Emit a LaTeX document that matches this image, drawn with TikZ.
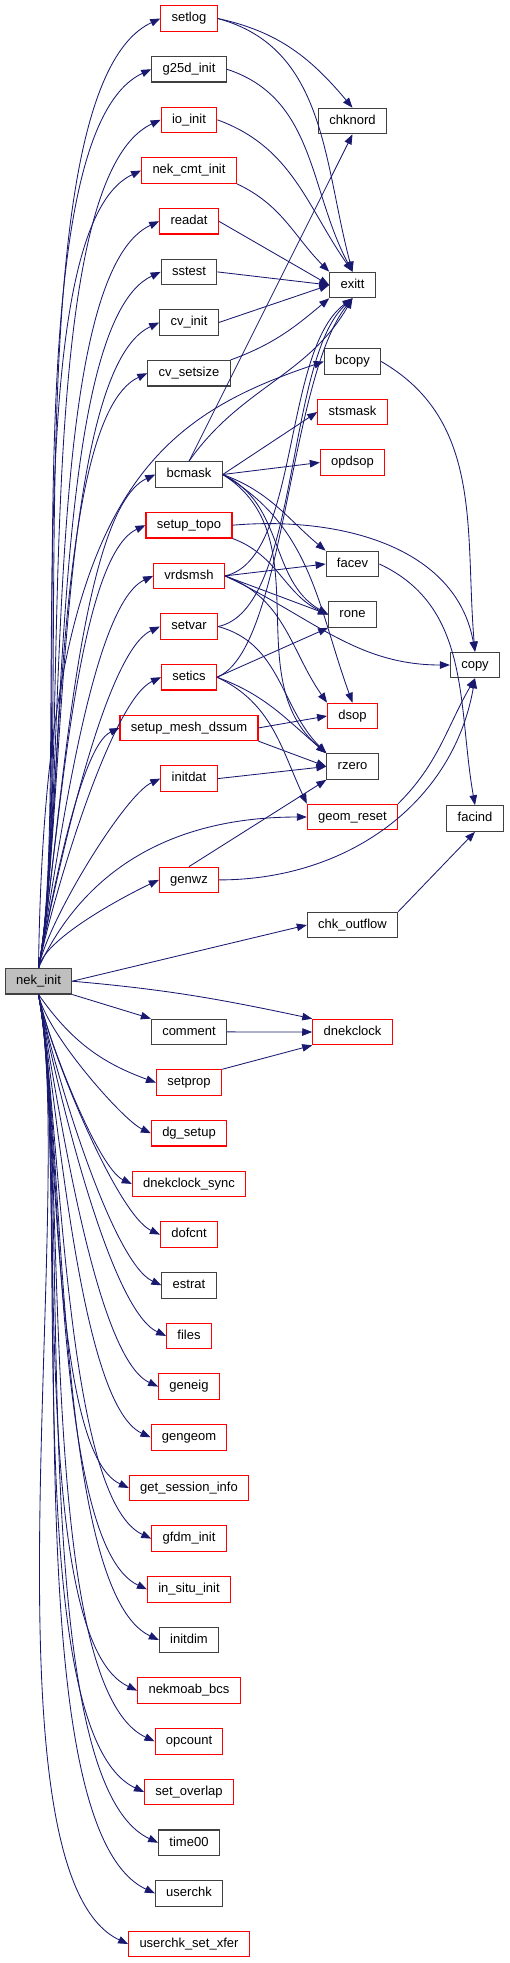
\documentclass[tikz,border=0pt]{standalone}
\usepackage{fontspec}
\setmainfont{Liberation Sans}
\usetikzlibrary{arrows.meta,positioning}
\definecolor{navyline}{HTML}{191970}
\definecolor{boxgray}{HTML}{404040}
\definecolor{rootfill}{HTML}{BFBFBF}

\begin{document}
\begin{tikzpicture}[x=1pt,y=1pt,
  fn/.style={rectangle,draw=boxgray,line width=1.1pt,fill=white,font=\fontsize{13}{13}\selectfont,
             minimum height=25.5pt,inner xsep=10.8pt,inner ysep=0pt,text height=9.5pt,text depth=2.8pt},
  fnred/.style={fn,draw=red},
  root/.style={fn,fill=rootfill},
  call/.style={-{Triangle[length=10pt,width=7.5pt]},draw=navyline,line width=0.85pt},
  fanup/.style={out=79,in=205,out looseness=0.55,in looseness=0.45},
  fandown/.style={out=-79,in=155,out looseness=0.55,in looseness=0.45}
]
\useasboundingbox (0,0) rectangle (509,-1963);

% ===== ROOT =====
\node[root] (nek) at (38.5,-981.2) {nek\_init};

% ===== CALLED FROM nek_init (left column) =====
\node[fnred] (setlog)    at (189,-18.5)  {setlog};
\node[fn]    (gdinit)    at (189,-69.2)  {g25d\_init};
\node[fnred] (ioinit)    at (189,-119.8) {io\_init};
\node[fnred] (cmtinit)   at (189,-170.5) {nek\_cmt\_init};
\node[fnred] (readat)    at (189,-221.2) {readat};
\node[fn]    (sstest)    at (189,-271.9) {sstest};
\node[fn]    (cvinit)    at (189,-322.5) {cv\_init};
\node[fn]    (cvsetsize) at (189,-373.2) {cv\_setsize};
\node[fn]    (bcmask)    at (189,-474.5) {bcmask};
\node[fnred] (setuptopo) at (189,-525.2) {setup\_topo};
\node[fnred] (vrdsmsh)   at (189,-575.9) {vrdsmsh};
\node[fnred] (setvar)    at (189,-626.5) {setvar};
\node[fnred] (setics)    at (189,-677.2) {setics};
\node[fnred] (meshdssum) at (189,-727.9) {setup\_mesh\_dssum};
\node[fnred] (initdat)   at (189,-778.6) {initdat};
\node[fnred] (genwz)     at (189,-879.9) {genwz};
\node[fn]    (comment)   at (189,-1031.9) {comment};
\node[fnred] (setprop)   at (189,-1082.6) {setprop};
\node[fnred] (dgsetup)   at (189,-1133.2) {dg\_setup};
\node[fnred] (clocksync) at (189,-1183.9) {dnekclock\_sync};
\node[fnred] (dofcnt)    at (189,-1234.6) {dofcnt};
\node[fn]    (estrat)    at (189,-1285.3) {estrat};
\node[fnred] (files)     at (189,-1335.9) {files};
\node[fnred] (geneig)    at (189,-1386.6) {geneig};
\node[fnred] (gengeom)   at (189,-1437.3) {gengeom};
\node[fnred] (session)   at (189,-1488)   {get\_session\_info};
\node[fnred] (gfdm)      at (189,-1538.6) {gfdm\_init};
\node[fnred] (insitu)    at (189,-1589.3) {in\_situ\_init};
\node[fn]    (initdim)   at (189,-1640)   {initdim};
\node[fnred] (nekmoab)   at (189,-1690.6) {nekmoab\_bcs};
\node[fnred] (opcount)   at (189,-1741.3) {opcount};
\node[fnred] (setoverlap) at (189,-1792)  {set\_overlap};
\node[fn]    (timezero)  at (189,-1842.7) {time00};
\node[fn]    (userchk)   at (189,-1893.3) {userchk};
\node[fnred] (xfer)      at (189,-1944)   {userchk\_set\_xfer};

% ===== SECOND LEVEL (right columns) =====
\node[fn]    (chknord)    at (352.5,-121)   {chknord};
\node[fn]    (exitt)      at (352.5,-285)   {exitt};
\node[fn]    (bcopy)      at (352.5,-361.5) {bcopy};
\node[fnred] (stsmask)    at (352.5,-412)   {stsmask};
\node[fnred] (opdsop)     at (352.5,-462.5) {opdsop};
\node[fn]    (facev)      at (352.5,-564)   {facev};
\node[fn]    (rone)       at (352.5,-614.5) {rone};
\node[fnred] (dsop)       at (352.5,-716)   {dsop};
\node[fn]    (rzero)      at (352.5,-766.5) {rzero};
\node[fnred] (geomreset)  at (352.5,-817)   {geom\_reset};
\node[fn]    (chkoutflow) at (352.5,-925)   {chk\_outflow};
\node[fnred] (dnekclock)  at (352.5,-1032)  {dnekclock};
\node[fn]    (copy)       at (475,-665)     {copy};
\node[fn]    (facind)     at (475,-818.5)   {facind};

% ===== CALLS FROM nek_init =====
\foreach \t in {setlog,gdinit,ioinit,cmtinit,readat,sstest,cvinit,cvsetsize,
                bcmask,setuptopo,vrdsmsh,setvar,setics,meshdssum,initdat,genwz} {
  \draw[call] (nek.north) to[fanup] (\t.west);
}
\foreach \t in {dgsetup,clocksync,dofcnt,estrat,files,geneig,gengeom,session,gfdm,
                insitu,initdim,nekmoab,opcount,setoverlap,timezero,userchk,xfer} {
  \draw[call] (nek.south) to[fandown] (\t.west);
}
\draw[call] (nek.north) .. controls (45,-500) and (150,-420) .. (bcopy.west);
\draw[call] (nek.north) to[out=65,in=180] (geomreset.west);
\draw[call] (nek.east) -- (chkoutflow.west);
\draw[call] (nek.east) to[out=-5,in=168] (dnekclock.north west);
\draw[call] (nek.south east) -- (comment.north west);
\draw[call] (nek.south) to[out=-55,in=160] (setprop.west);

% ===== CALLS TO exitt / chknord =====
\draw[call] (setlog.east) to[out=-12,in=130] (chknord.north);
\draw[call] (setlog.east) to[out=-15,in=105] (exitt.north);
\draw[call] (gdinit.east) to[out=-18,in=118] (exitt.north);
\draw[call] (ioinit.east) to[out=-20,in=125] (exitt.north);
\draw[call] (cmtinit.south east) to[out=-25,in=135] (exitt.north west);
\draw[call] (readat.east) -- (exitt.west);
\draw[call] (sstest.east) -- (exitt.west);
\draw[call] (cvinit.east) -- (exitt.west);
\draw[call] (cvsetsize.north east) to[out=20,in=-140] (exitt.south west);
\draw[call] (bcmask.north) -- (chknord.south);
\draw[call] (bcmask.north) to[out=55,in=-120] (exitt.south);
\draw[call] (vrdsmsh.east) .. controls (300,-560) and (282,-350) .. (exitt.south);
\draw[call] (setvar.east) .. controls (300,-610) and (285,-360) .. (exitt.south);
\draw[call] (setics.east) .. controls (285,-650) and (288,-380) .. (exitt.south);

% ===== OTHER SECOND LEVEL CALLS =====
\foreach \t in {stsmask,opdsop} {
  \draw[call] (bcmask.east) -- (\t.west);
}
\draw[call] (bcmask.east) to[out=-20,in=140] (facev.north west);
\draw[call] (bcmask.east) to[out=-25,in=150] (rone.west);
\draw[call] (bcmask.east) to[out=-30,in=110] (dsop.north);
\draw[call] (bcmask.east) to[out=-32,in=140] (rzero.north west);
\draw[call] (setuptopo.east) to[out=5,in=100] (copy.north);
\draw[call] (setuptopo.south east) to[out=-20,in=155] (rone.west);
\draw[call] (vrdsmsh.east) -- (facev.west);
\draw[call] (vrdsmsh.east) -- (rone.west);
\draw[call] (vrdsmsh.east) to[out=-20,in=125] (dsop.north west);
\draw[call] (vrdsmsh.east) to[out=-25,in=180] (copy.west);
\draw[call] (setvar.east) to[out=-15,in=135] (rzero.north west);
\draw[call] (setics.east) -- (rone.south west);
\draw[call] (setics.east) to[out=-20,in=140] (rzero.north west);
\draw[call] (setics.east) to[out=-25,in=115] (geomreset.north west);
\draw[call] (meshdssum.east) -- (dsop.west);
\draw[call] (meshdssum.south east) -- (rzero.west);
\draw[call] (initdat.east) -- (rzero.west);
\draw[call] (genwz.north) -- (rzero.south west);
\draw[call] (genwz.east) to[out=0,in=-100] (copy.south);
\draw[call] (geomreset.north east) to[out=45,in=-120] (copy.south);
\draw[call] (bcopy.east) to[out=-30,in=95] (copy.north);
\draw[call] (facev.east) to[out=-25,in=100] (facind.north);
\draw[call] (chkoutflow.north east) -- (facind.south);
\draw[call] (comment.east) -- (dnekclock.west);
\draw[call] (setprop.north east) -- (dnekclock.south west);

\end{tikzpicture}
\end{document}
